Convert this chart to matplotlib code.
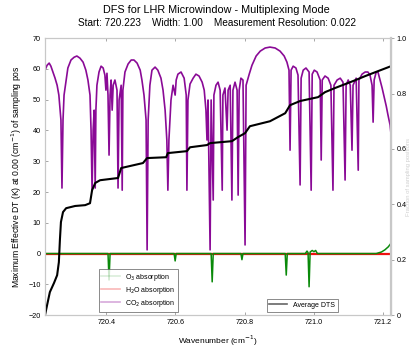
import matplotlib
matplotlib.use("Agg")
import matplotlib.pyplot as plt
from matplotlib.lines import Line2D

plt.rcParams['font.family'] = ['Liberation Sans', 'DejaVu Sans']

# CO2 absorption trace (left axis)
co2_wn = [720.223, 720.229, 720.235, 720.240, 720.246, 720.252, 720.258, 720.263, 720.269, 720.272,
          720.275, 720.278, 720.284, 720.289, 720.298, 720.307, 720.315, 720.324, 720.333, 720.341,
          720.347, 720.353, 720.356, 720.359, 720.362, 720.365, 720.368, 720.370, 720.373, 720.379,
          720.385, 720.391, 720.396, 720.399, 720.402, 720.405, 720.408, 720.411, 720.414, 720.417,
          720.420, 720.425, 720.431, 720.434, 720.437, 720.443, 720.446, 720.448, 720.454, 720.463,
          720.472, 720.480, 720.489, 720.498, 720.503, 720.509, 720.515, 720.518, 720.521, 720.526,
          720.532, 720.541, 720.549, 720.558, 720.564, 720.570, 720.575, 720.578, 720.581, 720.587,
          720.593, 720.599, 720.602, 720.607, 720.616, 720.625, 720.631, 720.633, 720.636, 720.642,
          720.651, 720.659, 720.668, 720.677, 720.683, 720.688, 720.691, 720.694, 720.700, 720.703,
          720.709, 720.711, 720.717, 720.723, 720.729, 720.735, 720.737, 720.743, 720.749, 720.752,
          720.758, 720.763, 720.766, 720.772, 720.778, 720.781, 720.784, 720.789, 720.795, 720.801,
          720.804, 720.813, 720.821, 720.833, 720.845, 720.859, 720.873, 720.888, 720.902, 720.914,
          720.922, 720.928, 720.931, 720.934, 720.940, 720.948, 720.954, 720.960, 720.963, 720.969,
          720.977, 720.986, 720.992, 720.995, 721.001, 721.009, 721.018, 721.021, 721.024, 721.032,
          721.041, 721.049, 721.055, 721.058, 721.067, 721.076, 721.084, 721.090, 721.093, 721.099,
          721.105, 721.110, 721.113, 721.122, 721.128, 721.130, 721.139, 721.148, 721.156, 721.162,
          721.168, 721.171, 721.174, 721.180, 721.185, 721.191, 721.197, 721.203, 721.209, 721.214,
          721.220, 721.223]
co2_val = [59.6, 61.2, 61.9, 60.9, 59.0, 57.0, 54.7, 51.5, 43.4, 21.3,
           43.4, 51.5, 56.4, 60.3, 62.9, 63.8, 64.2, 63.5, 62.2, 59.6,
           56.4, 51.5, 40.1, 20.6, 40.1, 46.6, 21.3, 46.6, 54.7, 59.0,
           60.9, 60.3, 58.0, 53.1, 58.6, 51.5, 32.0, 51.5, 56.4, 46.6,
           54.7, 56.4, 53.1, 21.3, 49.9, 54.7, 20.6, 53.1, 59.0, 61.6,
           62.9, 62.9, 61.9, 59.6, 56.4, 51.5, 43.4, 1.2, 43.4, 54.7,
           59.6, 60.6, 59.6, 57.0, 53.1, 46.6, 36.9, 20.6, 36.9, 49.9,
           54.7, 51.5, 56.4, 58.3, 59.0, 57.0, 51.5, 20.6, 49.9, 55.1,
           57.0, 58.3, 57.7, 55.7, 53.1, 46.6, 36.9, 49.9, 1.2, 49.9,
           17.4, 51.5, 54.7, 55.7, 53.1, 20.6, 51.5, 53.8, 40.1, 53.1,
           54.7, 17.4, 53.1, 55.7, 53.1, 19.0, 53.1, 57.0, 56.4, 2.8,
           54.7, 58.3, 61.2, 64.2, 65.8, 66.8, 67.1, 66.8, 65.8, 64.2,
           62.2, 59.6, 33.6, 59.6, 60.9, 60.3, 58.0, 22.3, 57.0, 59.6,
           60.3, 59.0, 20.6, 58.3, 59.6, 59.0, 56.4, 30.4, 56.4, 57.7,
           57.0, 54.7, 20.6, 54.7, 56.4, 57.0, 55.7, 23.9, 54.7, 56.4,
           54.7, 33.6, 54.7, 57.0, 27.1, 56.4, 58.3, 59.0, 59.0, 58.0,
           54.7, 42.7, 56.4, 59.0, 59.0, 56.4, 53.8, 50.8, 47.9, 45.0,
           41.8, 38.5]

# O3 absorption trace (left axis)
o3_wn = [720.223, 720.405, 720.408, 720.411, 720.596, 720.599, 720.602, 720.703, 720.706, 720.709,
         720.789, 720.792, 720.795, 720.917, 720.920, 720.923, 720.975, 720.980, 720.983, 720.986,
         720.989, 720.995, 721.000, 721.005, 721.010, 721.180, 721.195, 721.205, 721.215, 721.223]
o3_val = [0, 0, -8.6, 0, 0, -2.4, 0, 0, -9.2, 0,
          0, -2.0, 0, 0, -7.0, 0, 0, 0.8, 0.3, -10.8,
          0.5, 1.0, 0.6, 1.0, 0, 0, 0.5, 1.2, 2.2, 3.4]

# H2O absorption trace (left axis)
h2o_wn = [720.223, 721.223]
h2o_val = [0, 0]

# average DTS (right axis)
avg_wn = [720.223, 720.229, 720.237, 720.249, 720.258, 720.263, 720.266, 720.269, 720.275, 720.284,
          720.310, 720.339, 720.353, 720.359, 720.368, 720.382, 720.434, 720.443, 720.506, 720.518,
          720.573, 720.578, 720.633, 720.642, 720.691, 720.700, 720.763, 720.781, 720.801, 720.815,
          720.873, 720.917, 720.931, 720.960, 721.012, 721.032, 721.061, 721.090, 721.119, 721.148,
          721.177, 721.223]
avg_val = [0.0, 0.036, 0.083, 0.116, 0.144, 0.191, 0.271, 0.336, 0.372, 0.386,
           0.394, 0.397, 0.404, 0.451, 0.477, 0.487, 0.495, 0.531, 0.549, 0.567,
           0.570, 0.585, 0.592, 0.606, 0.614, 0.621, 0.628, 0.643, 0.657, 0.682,
           0.700, 0.729, 0.758, 0.773, 0.787, 0.805, 0.820, 0.834, 0.848, 0.863,
           0.877, 0.899]

x_ticks = [720.4, 720.6, 720.8, 721.0, 721.2]
y_ticks = [-20, -10, 0, 10, 20, 30, 40, 50, 60, 70]
r_ticks = [0, 0.2, 0.4, 0.6, 0.8, 1.0]

fig = plt.figure(figsize=(4.13, 3.47), dpi=100)
ax = fig.add_axes([0.109, 0.092, 0.838, 0.798])
ax2 = ax.twinx()

ax.plot(co2_wn, co2_val, color='#8a0a96', lw=1.2, zorder=2)
ax.plot(h2o_wn, h2o_val, color='#ee1111', lw=1.6, zorder=3)
ax.plot(o3_wn, o3_val, color='#0a8a0a', lw=1.1, zorder=4)
ax2.plot(avg_wn, avg_val, color='black', lw=1.5)

ax.set_xlim(720.223, 721.223)
ax.set_ylim(-20, 70)
ax2.set_ylim(0, 1)
ax.set_xticks(x_ticks)
ax.set_xticklabels(['%.1f' % t for t in x_ticks])
ax.set_yticks(y_ticks)
ax2.set_yticks(r_ticks)
ax2.set_yticklabels(['0', '0.2', '0.4', '0.6', '0.8', '1.0'])

for a in (ax, ax2):
    for s in a.spines.values():
        s.set_color('#c8c8c8')
        s.set_linewidth(0.8)
ax2.spines['right'].set_linewidth(1.6)
ax.tick_params(axis='both', direction='in', length=2, width=0.6, color='#999999',
               labelsize=5.2, top=True, pad=3)
ax2.tick_params(axis='y', direction='out', length=2, width=0.6, color='#999999',
                labelsize=5.2, pad=2)

ax.set_xlabel('Wavenumber (cm$^{-1}$)', fontsize=6, labelpad=5)
ax.set_ylabel('Maximum Effective DT (K) at 0.00 (cm$^{-1}$) of sampling pos', fontsize=6.2, labelpad=3)
ax2.set_ylabel('Fraction of sampling positions', fontsize=4.2, color='#d0d0d0')
ax2.yaxis.set_label_coords(1.043, 0.5)

fig.text(0.525, 0.972, 'DFS for LHR Microwindow - Multiplexing Mode', ha='center', va='center', fontsize=7.8)
fig.text(0.525, 0.934, 'Start: 720.223    Width: 1.00    Measurement Resolution: 0.022',
         ha='center', va='center', fontsize=7.2)

h1 = [Line2D([], [], color='#0a8a0a', alpha=0.15, lw=1.2),
      Line2D([], [], color='#ee1111', alpha=0.3, lw=1.2),
      Line2D([], [], color='#8a0a96', alpha=0.35, lw=1.2)]
leg1 = ax.legend(h1, ['O$_3$ absorption', 'H$_2$O absorption', 'CO$_2$ absorption'],
                 loc='lower left', bbox_to_anchor=(0.145, 0.0), fontsize=5, frameon=True,
                 fancybox=False, edgecolor='#555555', handlelength=2.6, borderpad=0.4,
                 labelspacing=0.3)
leg1.get_frame().set_linewidth(0.6)
h2 = [Line2D([], [], color='black', alpha=0.6, lw=1.2)]
leg2 = ax2.legend(h2, ['Average DTS'], loc='lower left', bbox_to_anchor=(0.63, 0.0),
                  fontsize=5, frameon=True, fancybox=False, edgecolor='#555555',
                  handlelength=2.6, borderpad=0.4)
leg2.get_frame().set_linewidth(0.6)

fig.savefig('out.png', dpi=100)
